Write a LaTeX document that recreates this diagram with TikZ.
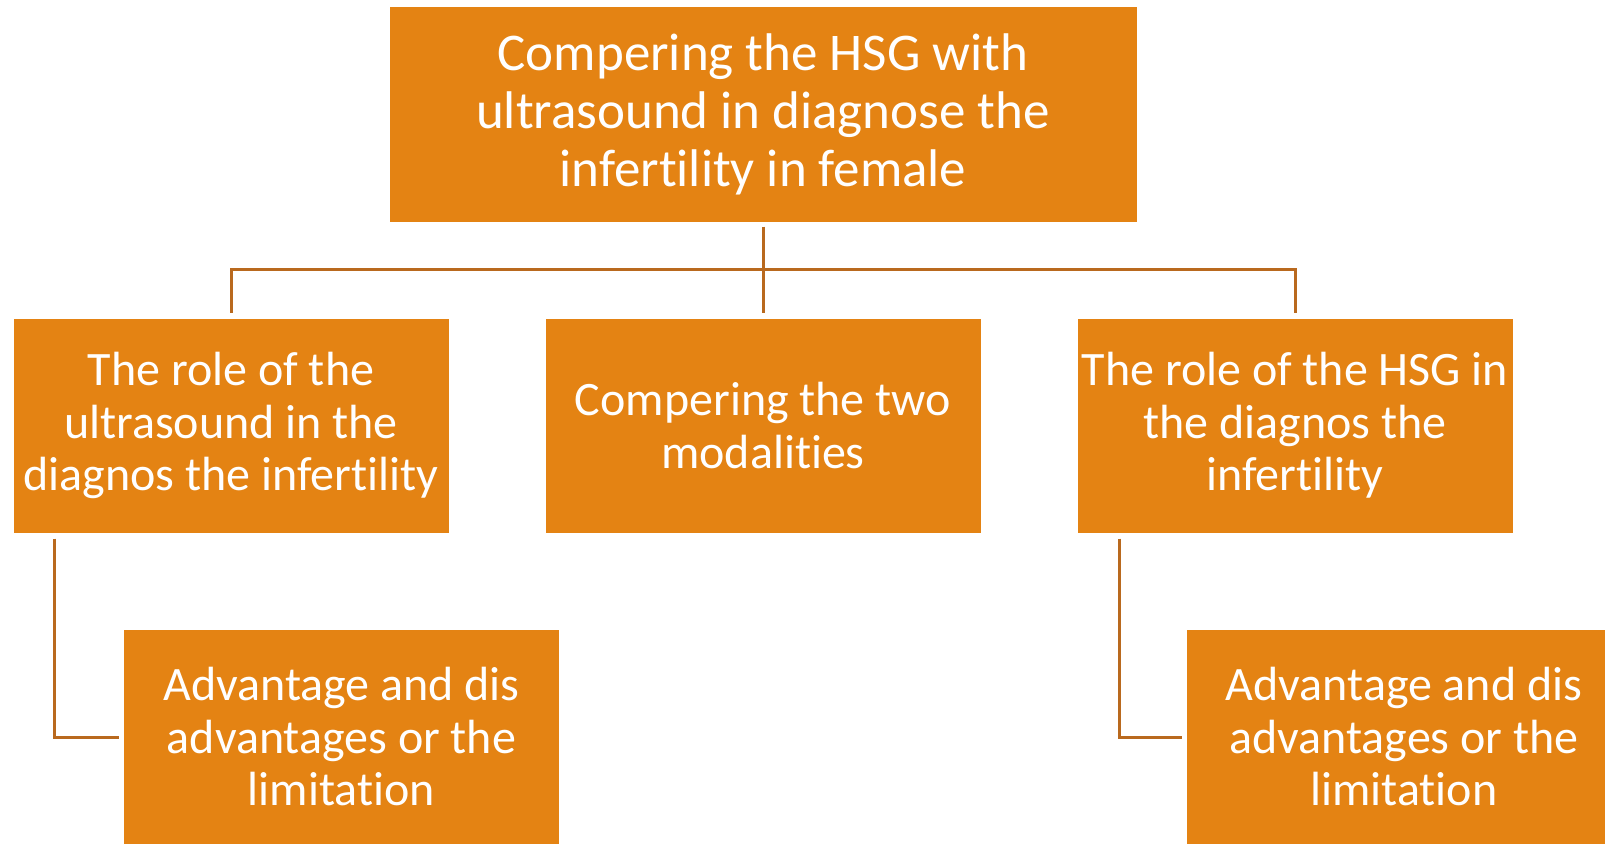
\documentclass[tikz,border=0pt]{standalone}
\usepackage{fontspec}
\setmainfont[RawFeature={-liga;-clig;-calt;-dlig}]{Carlito}
\definecolor{boxfill}{RGB}{228,131,19}
\definecolor{linecol}{RGB}{185,105,30}
\begin{document}
\begin{tikzpicture}[x=1pt,y=-1pt,
  box/.style={draw=white, line width=1pt, fill=boxfill, text=white, align=center, inner sep=0pt,
    minimum width=436pt, minimum height=215pt, font=\fontsize{48}{52.5}\selectfont},
  bigbox/.style={box, minimum width=748pt, font=\fontsize{53}{58}\selectfont},
  conn/.style={draw=linecol, line width=3pt}]
\useasboundingbox[fill=white] (0,0) rectangle (1605,843);
\node[bigbox] (top) at (763,114.5) {Compering the HSG with\\ultrasound in diagnose the\\infertility in female};
\node[box] (left) at (231,425.5) {The role of the\\ultrasound in the\\diagnos the infertility};
\node[box] (mid) at (763,425.5) {Compering the two\\modalities};
\node[box] (right) at (1295,425.5) {The role of the HSG in\\the diagnos the\\infertility};
\node[box] (bl) at (341.5,737) {Advantage and dis\\advantages or the\\limitation};
\node[box] (br) at (1404,737) {Advantage and dis\\advantages or the\\limitation};
\coordinate (bus) at (763,269);
\draw[conn, shorten <=4pt, shorten >=5pt] (top.south) -- (mid.north);
\draw[conn, shorten <=5pt, shorten >=5pt] (left.north) -- (left.north |- bus) -- (right.north |- bus) -- (right.north);
\draw[conn] ([xshift=42pt,yshift=-5pt]left.south west) |- ([xshift=-4pt]bl.west);
\draw[conn] ([xshift=43pt,yshift=-5pt]right.south west) |- ([xshift=-4pt]br.west);
\end{tikzpicture}
\end{document}
